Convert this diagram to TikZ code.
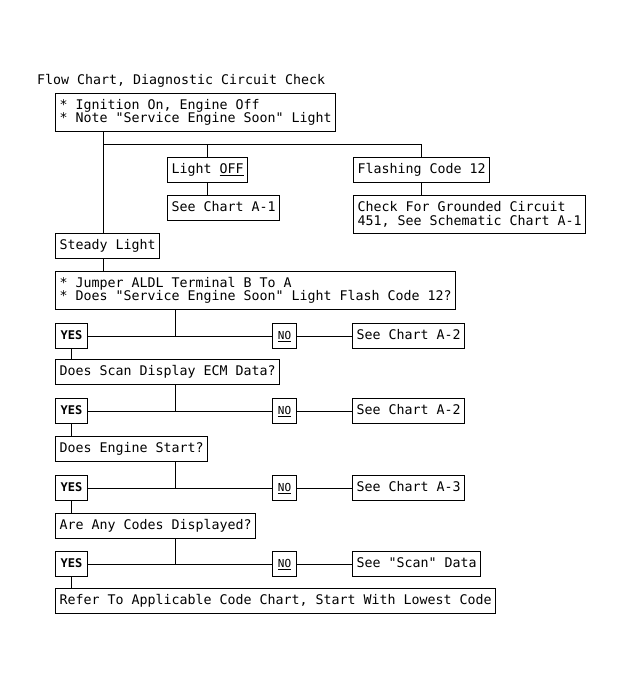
\documentclass[tikz,border=0pt]{standalone}
\usepackage{fontspec}
\setmonofont{DejaVu Sans Mono}
\newcommand{\chartsize}{\fontsize{13.29}{13.5}\selectfont}
\tikzset{
  chartbox/.style={draw, line width=1pt, anchor=north west, inner xsep=4pt, inner ysep=0pt,
    minimum height=25pt, text height=9.5pt, text depth=2.5pt, font=\ttfamily\chartsize},
  tallbox/.style={draw, line width=1pt, anchor=north west, align=left, inner xsep=4pt,
    inner ysep=0pt, minimum height=38pt, font=\ttfamily\chartsize},
  yesbox/.style={chartbox, minimum width=32pt, inner xsep=2pt, font=\ttfamily\bfseries\fontsize{12}{12}\selectfont},
  nobox/.style={chartbox, minimum width=24pt, inner xsep=2pt, font=\ttfamily\fontsize{11}{12}\selectfont},
  titletext/.style={anchor=base west, inner sep=0pt, font=\ttfamily\chartsize},
  link/.style={line width=1pt}
}
\begin{document}
\begin{tikzpicture}[x=1pt, y=-1pt]
    \useasboundingbox[fill=white] (0,0) rectangle (622,690);

    \node[titletext] (title) at (37,85) {Flow Chart, Diagnostic Circuit Check};
    \node[tallbox] (ign) at (55,93) {* Ignition On, Engine Off\\* Note "Service Engine Soon" Light};
    \node[chartbox] (light) at (167,157) {Light \underline{OFF}};
    \node[chartbox] (seeAone) at (167,195) {See Chart A-1};
    \node[chartbox] (flash) at (353,157) {Flashing Code 12};
    \node[tallbox] (check) at (353,195) {Check For Grounded Circuit\\451, See Schematic Chart A-1};
    \node[chartbox] (steady) at (55,233) {Steady Light};
    \node[tallbox] (jumper) at (55,271) {* Jumper ALDL Terminal B To A\\* Does "Service Engine Soon" Light Flash Code 12?};

    \node[yesbox] (yesA) at (55,323) {YES};
    \node[nobox] (noA) at (272,323) {\underline{NO}};
    \node[chartbox] (seeAtwo) at (352,323) {See Chart A-2};
    \node[chartbox] (scan) at (55,359) {Does Scan Display ECM Data?};

    \node[yesbox] (yesB) at (55,398) {YES};
    \node[nobox] (noB) at (272,398) {\underline{NO}};
    \node[chartbox] (seeAtwoB) at (352,398) {See Chart A-2};
    \node[chartbox] (engine) at (55,436) {Does Engine Start?};

    \node[yesbox] (yesC) at (55,475) {YES};
    \node[nobox] (noC) at (272,475) {\underline{NO}};
    \node[chartbox] (seeAthree) at (352,475) {See Chart A-3};
    \node[chartbox] (codes) at (55,513) {Are Any Codes Displayed?};

    \node[yesbox] (yesD) at (55,551) {YES};
    \node[nobox] (noD) at (272,551) {\underline{NO}};
    \node[chartbox] (seescan) at (352,551) {See "Scan" Data};
    \node[chartbox] (refer) at (55,588) {Refer To Applicable Code Chart, Start With Lowest Code};

    \coordinate (trunk) at (103,144);
    \coordinate (stem) at (175,0);

    \draw[link] (ign.south -| trunk) -- (steady.north -| trunk);
    \draw[link] (trunk) -- (trunk -| flash.north) -- (flash.north);
    \draw[link] (trunk -| light.north) -- (light.north);
    \draw[link] (light.south) -- (light.south |- seeAone.north);
    \draw[link] (flash.south) -- (flash.south |- check.north);
    \draw[link] (steady.south -| trunk) -- (jumper.north -| trunk);

    \draw[link] (jumper.south -| stem) -- (yesA -| stem);
    \draw[link] (yesA) -- (noA);
    \draw[link] (noA) -- (seeAtwo);
    \draw[link] (yesA) -- (scan.north -| yesA);

    \draw[link] (scan.south -| stem) -- (yesB -| stem);
    \draw[link] (yesB) -- (noB);
    \draw[link] (noB) -- (seeAtwoB);
    \draw[link] (yesB) -- (engine.north -| yesB);

    \draw[link] (engine.south -| stem) -- (yesC -| stem);
    \draw[link] (yesC) -- (noC);
    \draw[link] (noC) -- (seeAthree);
    \draw[link] (yesC) -- (codes.north -| yesC);

    \draw[link] (codes.south -| stem) -- (yesD -| stem);
    \draw[link] (yesD) -- (noD);
    \draw[link] (noD) -- (seescan);
    \draw[link] (yesD) -- (refer.north -| yesD);
\end{tikzpicture}
\end{document}
